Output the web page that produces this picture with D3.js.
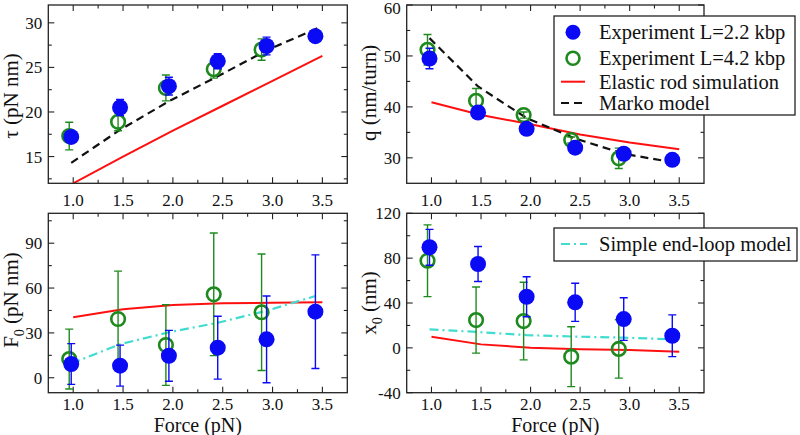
<!DOCTYPE html>
<html><head><meta charset="utf-8">
<script src="https://cdn.jsdelivr.net/npm/d3@7"></script>
<style>
html,body{margin:0;padding:0;background:#fff;}
text{font-family:"Liberation Serif","Times New Roman",serif;fill:#111;}
</style></head>
<body><svg id="c" width="800" height="435"></svg>
<script>
// ---------------- data ----------------
const forceBlue  = [0.98, 1.47, 1.96, 2.45, 2.94, 3.43];
const forceGreen = [0.96, 1.45, 1.93, 2.41, 2.89];
const forceSim   = [1.0, 1.5, 2.0, 2.5, 3.0, 3.5];
const forceModel = [0.98, 1.47, 1.96, 2.45, 2.94, 3.47];
const forceLoop  = [0.98, 1.47, 1.96, 2.45, 2.94, 3.43];

const tauBlue = [17.2, 20.5, 22.9, 25.7, 27.4, 28.5];
const tauBlueErr = [0.6, 0.9, 1.0, 0.85, 1.0, 0.5];
const tauGreen = [17.3, 18.9, 22.7, 24.8, 27.0];
const tauGreenErr = [1.55, 1.0, 1.45, 1.0, 1.2];
const tauSim = [12.0, 15.0, 17.9, 20.7, 23.5, 26.3];
const tauMarko = [14.3, 18.0, 21.2, 24.0, 26.9, 29.5];

const qBlue = [49.5, 38.9, 35.7, 32.0, 30.8, 29.6];
const qBlueErr = [2.0, 0.6, 0.6, 0.6, 0.6, 0.5];
const qGreen = [51.2, 41.2, 38.4, 33.5, 29.9];
const qGreenErr = [3.0, 2.4, 0.6, 0.6, 2.0];
const qSim = [40.9, 38.4, 36.6, 34.6, 33.0, 31.7];
const qMarko = [53.5, 44.0, 37.8, 33.8, 30.8, 29.0];

const f0Blue = [9.2, 8.1, 14.7, 20.1, 25.7, 44.2];
const f0BlueErr = [13.6, 13.7, 17, 21, 29, 38];
const f0Green = [12.5, 39.3, 21.9, 55.8, 43.8];
const f0GreenErr = [20, 32, 27, 41, 39];
const f0Sim = [40.4, 45.8, 48.7, 49.8, 50.2, 50.5];
const f0Loop = [9.6, 22.4, 30.4, 36.8, 44.8, 54.7];

const x0Blue = [89.7, 74.8, 45.6, 40.6, 25.7, 10.8];
const x0BlueErr = [16, 15.6, 17.8, 17, 19, 18.6];
const x0Green = [77.7, 24.8, 23.9, -7.9, -1.0];
const x0GreenErr = [32, 29.5, 34.6, 26.7, 26];
const x0Sim = [10.0, 3.1, 0.1, -1.3, -2.0, -3.4];
const x0Loop = [16.5, 14.1, 11.4, 10.0, 9.1, 7.6];

const xTicks = [1.0, 1.5, 2.0, 2.5, 3.0, 3.5];
const xMinor = [1.25, 1.75, 2.25, 2.75, 3.25];
const tauTicks = [15, 20, 25, 30], tauMinor = [12.5, 17.5, 22.5, 27.5];
const qTicks = [30, 40, 50, 60], qMinor = [35, 45, 55];
const f0Ticks = [0, 30, 60, 90], f0Minor = [15, 45, 75, 105];
const x0Ticks = [-40, 0, 40, 80, 120], x0Minor = [-20, 20, 60, 100];

const legendMain = ["Experiment L=2.2 kbp", "Experiment L=4.2 kbp", "Elastic rod simulation", "Marko model"];
const legendLoop = ["Simple end-loop model"];

// ---------------- style ----------------
const BLUE = "#0a0af5", GREEN = "#1e8a1e", RED = "#ff1010", CYAN = "#40dcd0";
const svg = d3.select("#c");

function panel(o) {
  const x = d3.scaleLinear().domain([0.75, 3.75]).range([o.x0, o.x1]);
  const y = d3.scaleLinear().domain(o.yDomain).range([o.y1, o.y0]);
  const g = svg.append("g");
  const cid = "clip" + o.id;
  svg.append("clipPath").attr("id", cid).append("rect")
    .attr("x", o.x0).attr("y", o.y0).attr("width", o.x1 - o.x0).attr("height", o.y1 - o.y0);

  // ticks (inward, all sides)
  const tk = (vals, len) => {
    vals.forEach(v => {
      g.append("line").attr("x1", x(v)).attr("x2", x(v)).attr("y1", o.y1).attr("y2", o.y1 - len).attr("stroke", "#222").attr("stroke-width", 1.1);
      g.append("line").attr("x1", x(v)).attr("x2", x(v)).attr("y1", o.y0).attr("y2", o.y0 + len).attr("stroke", "#222").attr("stroke-width", 1.1);
    });
  };
  const tky = (vals, len) => {
    vals.forEach(v => {
      g.append("line").attr("y1", y(v)).attr("y2", y(v)).attr("x1", o.x0).attr("x2", o.x0 + len).attr("stroke", "#222").attr("stroke-width", 1.1);
      g.append("line").attr("y1", y(v)).attr("y2", y(v)).attr("x1", o.x1).attr("x2", o.x1 - len).attr("stroke", "#222").attr("stroke-width", 1.1);
    });
  };
  tk(xTicks, 6); tk(xMinor, 3.5);
  tky(o.yTicks, 6); tky(o.yMinor, 3.5);

  // tick labels
  xTicks.forEach(v => g.append("text").attr("x", x(v)).attr("y", o.y1 + o.xtlOff).attr("text-anchor", "middle")
    .attr("font-size", 17).text(d3.format(".1f")(v)));
  o.yTicks.forEach(v => g.append("text").attr("x", o.x0 - 6).attr("y", Math.max(y(v) + 6, 14)).attr("text-anchor", "end")
    .attr("font-size", 17).text(String(v)));

  const plot = g.append("g").attr("clip-path", `url(#${cid})`);
  const line = (xs, ys) => d3.line().x((d, i) => x(xs[i])).y(d => y(d))(ys);

  // model curves
  if (o.sim) plot.append("path").attr("d", line(forceSim, o.sim)).attr("fill", "none").attr("stroke", RED).attr("stroke-width", 2);
  if (o.marko) plot.append("path").attr("d", line(forceModel, o.marko)).attr("fill", "none").attr("stroke", "#111").attr("stroke-width", 2.2).attr("stroke-dasharray", "8,5");
  if (o.loop) plot.append("path").attr("d", line(forceLoop, o.loop)).attr("fill", "none").attr("stroke", CYAN).attr("stroke-width", 2.2).attr("stroke-dasharray", "9,4,2,4");

  const errBars = (xs, ys, es, col) => {
    ys.forEach((v, i) => {
      const cx = x(xs[i]), yt = y(v + es[i]), yb = y(v - es[i]);
      plot.append("line").attr("x1", cx).attr("x2", cx).attr("y1", yt).attr("y2", yb).attr("stroke", col).attr("stroke-width", 1.4);
      plot.append("line").attr("x1", cx - 4).attr("x2", cx + 4).attr("y1", yt).attr("y2", yt).attr("stroke", col).attr("stroke-width", 1.4);
      plot.append("line").attr("x1", cx - 4).attr("x2", cx + 4).attr("y1", yb).attr("y2", yb).attr("stroke", col).attr("stroke-width", 1.4);
    });
  };
  errBars(forceGreen, o.green, o.greenErr, GREEN);
  o.green.forEach((v, i) => plot.append("circle").attr("cx", x(forceGreen[i])).attr("cy", y(v)).attr("r", 6.8)
    .attr("fill", "none").attr("stroke", GREEN).attr("stroke-width", 2.6));
  errBars(forceBlue, o.blue, o.blueErr, BLUE);
  o.blue.forEach((v, i) => plot.append("circle").attr("cx", x(forceBlue[i])).attr("cy", y(v)).attr("r", 8)
    .attr("fill", BLUE));

  // frame
  g.append("rect").attr("x", o.x0).attr("y", o.y0).attr("width", o.x1 - o.x0).attr("height", o.y1 - o.y0)
    .attr("fill", "none").attr("stroke", "#222").attr("stroke-width", 1.3);

  // y label
  const yl = g.append("text").attr("transform", `translate(${o.ylx},${o.yly}) rotate(-90)`)
    .attr("text-anchor", "middle").attr("font-size", 21);
  o.ylabel(yl);
  if (o.xlabel) g.append("text").attr("x", (o.x0 + o.x1) / 2).attr("y", 431.5).attr("text-anchor", "middle")
    .attr("font-size", 20).text(o.xlabel);
  return { x, y };
}

panel({ id: 1, x0: 48.3, x1: 347.3, y0: 5, y1: 183.3, yDomain: [12, 32], yTicks: tauTicks, yMinor: tauMinor,
  blue: tauBlue, blueErr: tauBlueErr, green: tauGreen, greenErr: tauGreenErr, sim: tauSim, marko: tauMarko,
  xtlOff: 23, ylx: 18, yly: 96, ylabel: t => t.text("τ (pN nm)") });
panel({ id: 2, x0: 406.7, x1: 704, y0: 5, y1: 183.3, yDomain: [25, 60], yTicks: qTicks, yMinor: qMinor,
  blue: qBlue, blueErr: qBlueErr, green: qGreen, greenErr: qGreenErr, sim: qSim, marko: qMarko,
  xtlOff: 23, ylx: 376, yly: 93, ylabel: t => t.text("q (nm/turn)") });
panel({ id: 3, x0: 48.3, x1: 347.3, y0: 213.3, y1: 392.7, yDomain: [-10, 110], yTicks: f0Ticks, yMinor: f0Minor,
  blue: f0Blue, blueErr: f0BlueErr, green: f0Green, greenErr: f0GreenErr, sim: f0Sim, loop: f0Loop,
  xtlOff: 17.5, ylx: 18, yly: 300, xlabel: "Force (pN)",
  ylabel: t => { t.append("tspan").text("F"); t.append("tspan").attr("dy", 6).attr("font-size", 14).text("0");
                 t.append("tspan").attr("dy", -6).text(" (pN nm)"); } });
panel({ id: 4, x0: 406.7, x1: 704, y0: 213.3, y1: 392.7, yDomain: [-40, 120], yTicks: x0Ticks, yMinor: x0Minor,
  blue: x0Blue, blueErr: x0BlueErr, green: x0Green, greenErr: x0GreenErr, sim: x0Sim, loop: x0Loop,
  xtlOff: 17.5, ylx: 376, yly: 303, xlabel: "Force (pN)",
  ylabel: t => { t.append("tspan").text("x"); t.append("tspan").attr("dy", 6).attr("font-size", 14).text("0");
                 t.append("tspan").attr("dy", -6).text(" (nm)"); } });

// ---------------- legends ----------------
const lg = svg.append("g");
lg.append("rect").attr("x", 554).attr("y", 16).attr("width", 241).attr("height", 99)
  .attr("fill", "#fff").attr("stroke", "#222").attr("stroke-width", 1.3);
const rows = [32.3, 58.3, 81.7, 103];
lg.append("circle").attr("cx", 573).attr("cy", rows[0]).attr("r", 7.5).attr("fill", BLUE);
lg.append("circle").attr("cx", 573).attr("cy", rows[1]).attr("r", 6.5).attr("fill", "none").attr("stroke", GREEN).attr("stroke-width", 2.6);
lg.append("line").attr("x1", 561).attr("x2", 585).attr("y1", rows[2]).attr("y2", rows[2]).attr("stroke", RED).attr("stroke-width", 2);
lg.append("line").attr("x1", 561).attr("x2", 587).attr("y1", rows[3]).attr("y2", rows[3]).attr("stroke", "#111").attr("stroke-width", 2.2).attr("stroke-dasharray", "8,5");
legendMain.forEach((s, i) => lg.append("text").attr("x", 599).attr("y", rows[i] + 7).attr("font-size", 20.5).text(s));

lg.append("rect").attr("x", 554).attr("y", 228).attr("width", 243).attr("height", 33)
  .attr("fill", "#fff").attr("stroke", "#222").attr("stroke-width", 1.3);
lg.append("line").attr("x1", 561).attr("x2", 587).attr("y1", 244).attr("y2", 244).attr("stroke", CYAN).attr("stroke-width", 2.2).attr("stroke-dasharray", "9,4,2,4");
lg.append("text").attr("x", 599).attr("y", 251).attr("font-size", 20.5).text(legendLoop[0]);
</script></body></html>
